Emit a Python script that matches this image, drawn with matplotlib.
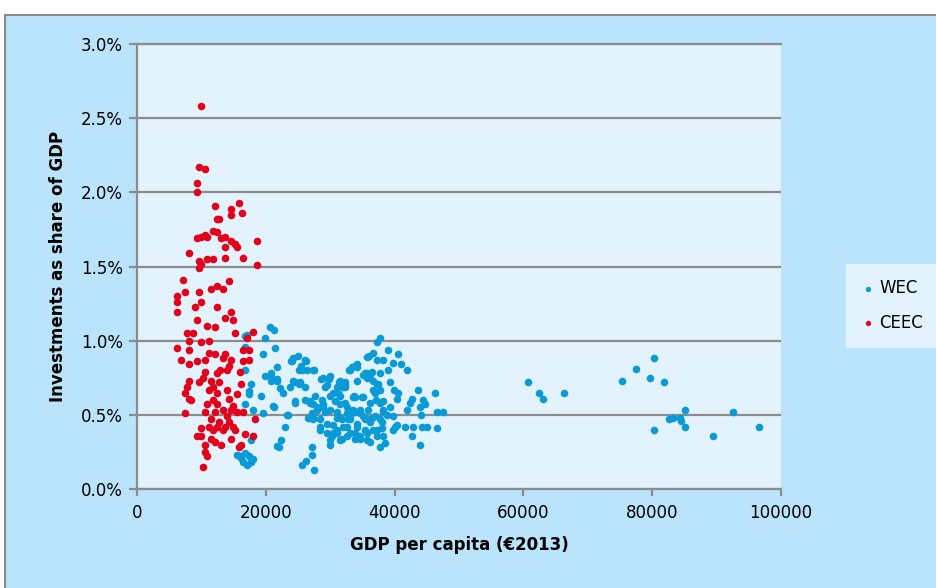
import matplotlib
matplotlib.use("Agg")
import matplotlib.pyplot as plt
import matplotlib.patches as mpatches
from matplotlib.ticker import PercentFormatter, MultipleLocator

# GDP per capita (thousand EUR 2013) and investments as % of GDP
wec_gdp_k = [
    20.7, 21.3, 19.9, 16.8, 19.6, 21.4, 16.8, 16.8, 21.7, 19.9, 20.8, 21.7, 17.7, 17.4,
    19.3, 21.1, 16.8, 18.0, 19.6, 17.7, 21.7, 15.5, 16.1, 16.8, 17.4, 16.5, 17.1, 17.7,
    18.0, 16.0,
    17.1, 25.0, 23.9, 26.2, 25.5, 25.2, 26.4, 27.5, 20.8, 21.7, 20.8, 24.2, 25.2, 26.1,
    28.6, 29.8, 29.2, 22.2, 22.7, 23.8, 17.4, 21.3, 24.5, 26.9, 23.4, 23.0, 22.4, 22.0,
    27.2, 27.2, 26.2, 25.6, 27.5,
    30.0, 31.4, 32.3, 33.1, 34.2, 35.7, 32.3, 33.5, 35.1, 27.3, 28.4, 29.5, 30.4, 31.8,
    28.4, 29.5, 31.1, 32.6, 34.2, 30.0, 31.5, 26.9, 28.0, 28.9, 31.1, 32.6, 34.6, 35.7,
    35.7, 30.0, 28.7, 31.5, 27.6, 31.5, 29.2, 26.1, 32.8,
    37.7, 37.3, 39.0, 40.5, 36.0, 36.6, 37.3, 38.2, 39.8, 41.0, 41.9, 33.9, 32.9, 35.4,
    36.5, 37.7, 39.0, 34.2, 35.7, 36.6, 37.4, 39.3, 31.5, 31.1, 32.3, 36.6, 37.7, 39.9,
    40.5, 43.6, 46.3, 33.7, 34.9, 37.1, 38.2, 40.4, 42.7, 44.4, 44.7, 30.7, 32.3, 42.4,
    43.9, 33.9, 35.9, 38.2, 41.9, 44.1, 46.6, 47.5, 31.1, 33.1, 35.1, 37.0, 39.8, 36.2,
    38.0, 40.4, 41.6, 42.9, 44.3, 45.0, 32.0, 34.2, 35.4, 36.6, 38.0, 39.8, 46.6, 30.4,
    33.1, 34.6, 37.3, 38.2, 42.7, 33.9, 36.2, 43.9, 38.5, 37.7, 30.0,
    32.0, 31.2, 30.0, 28.9, 28.0, 27.2, 26.6, 27.3, 28.4, 30.3, 31.1, 31.8, 32.6, 33.9,
    34.6, 35.7, 37.3, 35.4, 36.5, 34.6, 33.5, 32.6, 31.5, 33.1, 34.2, 37.7, 38.2, 37.7,
    37.0, 37.3, 36.2, 35.7, 35.1, 34.2, 33.4, 33.9, 36.2, 39.3, 38.8, 40.1, 24.2, 24.1,
    25.6, 27.3, 26.1, 24.5, 25.3, 28.9, 29.5, 30.4, 24.5, 23.3, 26.9, 27.3,
    60.7, 62.4, 63.0, 66.3, 75.3, 77.5, 80.3, 79.7, 81.8, 85.1, 82.6, 83.2, 84.3, 84.5,
    85.1, 80.3, 89.4, 92.5, 96.6,
]
wec_inv = [
    1.09, 1.07, 1.02, 1.03, 0.91, 0.95, 0.96, 0.80, 0.82, 0.76, 0.76, 0.73, 0.71, 0.64,
    0.63, 0.56, 0.57, 0.53, 0.51, 0.33, 0.29, 0.23, 0.21, 0.24, 0.22, 0.18, 0.16, 0.18,
    0.20, 0.22,
    1.04, 0.90, 0.86, 0.86, 0.83, 0.80, 0.80, 0.80, 0.78, 0.74, 0.73, 0.73, 0.71, 0.69,
    0.74, 0.74, 0.69, 0.68, 0.65, 0.69, 0.66, 0.55, 0.58, 0.58, 0.50, 0.42, 0.33, 0.28,
    0.28, 0.23, 0.19, 0.16, 0.13,
    0.76, 0.72, 0.72, 0.80, 0.84, 0.89, 0.69, 0.62, 0.62, 0.49, 0.47, 0.44, 0.43, 0.47,
    0.40, 0.38, 0.40, 0.36, 0.35, 0.33, 0.33, 0.48, 0.53, 0.55, 0.52, 0.51, 0.53, 0.47,
    0.33, 0.63, 0.60, 0.63, 0.63, 0.57, 0.52, 0.60, 0.47,
    1.02, 0.99, 0.94, 0.91, 0.90, 0.92, 0.87, 0.87, 0.85, 0.84, 0.80, 0.83, 0.80, 0.78,
    0.79, 0.78, 0.80, 0.73, 0.75, 0.73, 0.71, 0.72, 0.73, 0.69, 0.70, 0.67, 0.67, 0.67,
    0.65, 0.67, 0.65, 0.63, 0.62, 0.60, 0.59, 0.61, 0.61, 0.60, 0.57, 0.59, 0.58, 0.58,
    0.55, 0.52, 0.53, 0.53, 0.53, 0.50, 0.52, 0.52, 0.48, 0.49, 0.49, 0.49, 0.49, 0.45,
    0.45, 0.43, 0.42, 0.42, 0.42, 0.42, 0.42, 0.42, 0.40, 0.40, 0.41, 0.40, 0.41, 0.38,
    0.38, 0.36, 0.36, 0.36, 0.36, 0.34, 0.32, 0.30, 0.31, 0.28, 0.30,
    0.69, 0.65, 0.53, 0.57, 0.55, 0.51, 0.48, 0.47, 0.42, 0.36, 0.38, 0.34, 0.42, 0.38,
    0.34, 0.38, 0.40, 0.47, 0.48, 0.51, 0.53, 0.55, 0.48, 0.47, 0.44, 0.47, 0.52, 0.58,
    0.65, 0.71, 0.75, 0.78, 0.77, 0.82, 0.82, 0.62, 0.58, 0.55, 0.50, 0.42, 0.88, 0.86,
    0.80, 0.80, 0.87, 0.72, 0.72, 0.75, 0.70, 0.65, 0.59, 0.50, 0.59, 0.57,
    0.72, 0.65, 0.61, 0.65, 0.73, 0.81, 0.88, 0.75, 0.72, 0.53, 0.47, 0.48, 0.48, 0.46,
    0.42, 0.40, 0.36, 0.52, 0.42,
]

ceec_gdp_k = [
    9.9, 9.6, 10.6, 9.3, 9.3, 12.1, 14.6, 15.8, 14.6, 16.3, 12.7, 12.4,
    11.8, 12.4, 10.6, 9.9, 9.3, 10.9, 13.0, 13.7, 14.6, 13.7, 15.2, 15.5, 18.6,
    8.1, 13.7, 16.5, 9.6, 10.9, 11.8, 9.9, 9.6, 18.6,
    7.1, 14.3, 12.4, 11.5, 13.4, 7.5, 9.6, 6.2, 6.2, 9.9, 9.0, 12.4, 6.2, 14.6, 13.7,
    14.9, 9.3, 10.9, 12.1, 7.8, 8.7, 15.2, 18.0, 17.1, 8.1, 9.9, 11.2, 6.2, 8.1, 11.2,
    12.1, 13.7, 16.5, 17.4, 6.8, 8.1, 9.3, 10.6, 13.4, 14.6, 16.5, 17.4, 14.3, 12.9,
    14.0, 16.0, 10.6, 10.2, 9.6, 12.4, 8.1, 11.5, 12.7, 11.8, 7.8, 16.1, 7.5, 11.2,
    12.4, 14.0, 15.5, 8.1, 8.4, 11.8, 14.3, 10.9, 12.4, 14.9, 10.6, 12.1, 13.4, 14.6,
    15.5, 16.5, 7.5, 14.0, 11.5, 12.7, 14.3, 18.3, 11.2, 12.4, 13.7, 14.9, 9.9, 11.8,
    13.4, 15.2, 16.8, 18.0, 9.3, 9.9, 11.5, 14.6, 12.1, 13.0, 10.6, 16.1, 15.8, 10.6,
    10.9, 10.2,
]
ceec_inv = [
    2.58, 2.17, 2.16, 2.06, 2.00, 1.91, 1.89, 1.93, 1.85, 1.86, 1.82, 1.82,
    1.74, 1.73, 1.71, 1.70, 1.69, 1.70, 1.69, 1.70, 1.67, 1.63, 1.65, 1.63, 1.67,
    1.59, 1.56, 1.56, 1.54, 1.55, 1.55, 1.52, 1.49, 1.51,
    1.41, 1.40, 1.37, 1.35, 1.35, 1.33, 1.33, 1.30, 1.26, 1.26, 1.23, 1.23, 1.19, 1.19,
    1.15, 1.14, 1.14, 1.10, 1.09, 1.05, 1.05, 1.05, 1.06, 1.02, 1.00, 0.99, 1.00, 0.95,
    0.94, 0.92, 0.91, 0.91, 0.94, 0.94, 0.87, 0.84, 0.86, 0.87, 0.88, 0.87, 0.86, 0.87,
    0.83, 0.80, 0.80, 0.79, 0.79, 0.75, 0.72, 0.78, 0.73, 0.73, 0.72, 0.69, 0.69, 0.71,
    0.65, 0.67, 0.65, 0.67, 0.64, 0.61, 0.60, 0.60, 0.61, 0.57, 0.57, 0.56, 0.52, 0.52,
    0.53, 0.53, 0.52, 0.52, 0.51, 0.49, 0.47, 0.45, 0.45, 0.47, 0.42, 0.42, 0.42, 0.42,
    0.41, 0.40, 0.40, 0.40, 0.37, 0.36, 0.36, 0.36, 0.34, 0.34, 0.32, 0.30, 0.30, 0.30,
    0.28, 0.25, 0.22, 0.15,
]

x_ticks = [0, 20000, 40000, 60000, 80000, 100000]

COR_WEC   = "#0A9BD6"
COR_CEEC  = "#E3001B"
COR_FUNDO = "#BAE4FC"
COR_AREA  = "#E2F3FE"
COR_GRADE = "#8C8C8C"

fig = plt.figure(figsize=(9.37, 5.88), dpi=100, facecolor="white")

# Caixa externa azul clara (atrás de tudo)
fundo = fig.add_axes([0, 0, 1, 1], zorder=-10)
fundo.set_xlim(0, 937)
fundo.set_ylim(588, 0)
fundo.axis("off")
fundo.add_patch(mpatches.Rectangle(
    (5, 15), 940, 580, facecolor=COR_FUNDO,
    edgecolor="#8A8A8A", linewidth=1.5))

ax = fig.add_axes([137 / 937, 99 / 588, 644 / 937, 445 / 588])
ax.set_facecolor(COR_AREA)

ax.scatter([v * 1000 for v in wec_gdp_k], wec_inv, s=30, color=COR_WEC,
           linewidths=0, label="WEC", zorder=3)
ax.scatter([v * 1000 for v in ceec_gdp_k], ceec_inv, s=30, color=COR_CEEC,
           linewidths=0, label="CEEC", zorder=3)

ax.set_xlim(0, 100000)
ax.set_ylim(0, 3.0)
ax.set_xticks(x_ticks)
ax.set_xticklabels([str(t) for t in x_ticks])
ax.yaxis.set_major_locator(MultipleLocator(0.5))
ax.yaxis.set_major_formatter(PercentFormatter(xmax=100, decimals=1))

ax.grid(axis="y", color=COR_GRADE, linewidth=1.6, zorder=1)
ax.set_axisbelow(True)
for lado in ["top", "right"]:
    ax.spines[lado].set_visible(False)
for lado in ["left", "bottom"]:
    ax.spines[lado].set_color(COR_GRADE)
    ax.spines[lado].set_linewidth(1.6)
ax.tick_params(axis="y", direction="out", length=6, width=1.6, color=COR_GRADE,
               labelsize=12, pad=4)
ax.tick_params(axis="x", direction="out", length=5, width=1.6, color=COR_GRADE,
               labelsize=12, pad=6)
ax.axhline(3.0, color=COR_GRADE, linewidth=1.6, clip_on=False, zorder=2)

ax.set_xlabel("GDP per capita (€2013)", fontsize=12, fontweight="bold", labelpad=10)
ax.set_ylabel("Investments as share of GDP", fontsize=12, fontweight="bold", labelpad=10)

leg = fig.legend(loc="upper left", bbox_to_anchor=(846 / 937, 1 - 264 / 588),
                 frameon=True, fontsize=12, markerscale=0.7, handletextpad=0.3,
                 borderpad=0.9, labelspacing=1.0, handlelength=0.8,
                 borderaxespad=0)
leg.get_frame().set_facecolor(COR_AREA)
leg.get_frame().set_edgecolor(COR_AREA)
leg.get_frame().set_boxstyle("square", pad=0)
leg.get_frame().set_alpha(1)

fig.savefig("out.png", dpi=100, facecolor="white")
